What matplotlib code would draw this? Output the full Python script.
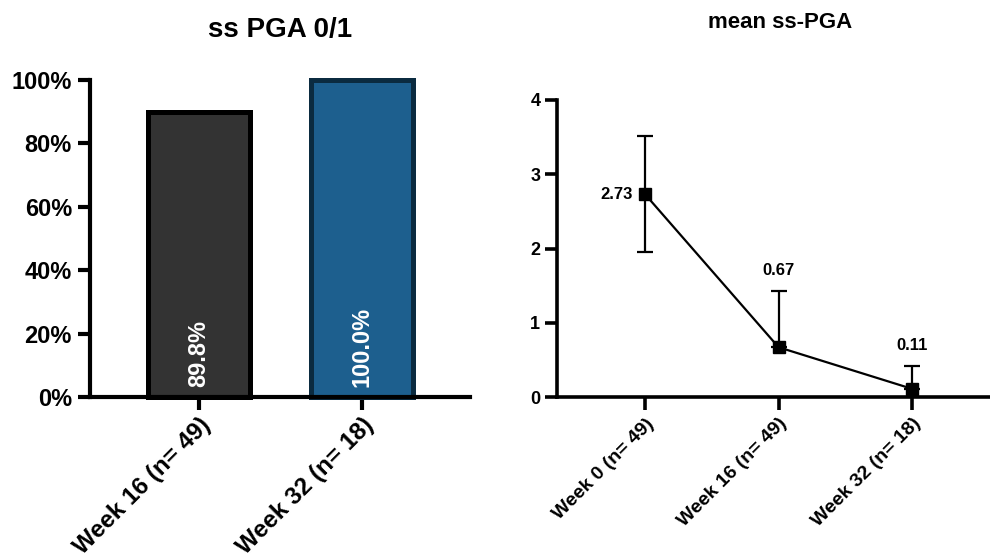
import matplotlib
matplotlib.use("Agg")
import matplotlib.pyplot as plt
from matplotlib.ticker import FuncFormatter

plt.rcParams['font.family'] = ['Liberation Sans', 'DejaVu Sans']

# ---- data ----
bar_categories = ["Week 16 (n= 49)", "Week 32 (n= 18)"]
bar_values = [0.898, 1.000]
bar_labels = ["89.8%", "100.0%"]
bar_colors = ["#333333", "#1D5F8E"]
bar_edges = ["#000000", "#0B2B40"]

line_categories = ["Week 0 (n= 49)", "Week 16 (n= 49)", "Week 32 (n= 18)"]
line_means = [2.73, 0.67, 0.11]
line_err_lower = [0.78, 0.0, 0.0]
line_err_upper = [0.78, 0.76, 0.31]
line_labels = ["2.73", "0.67", "0.11"]

fig = plt.figure(figsize=(9.9, 5.58), dpi=100)

# ---- left panel ----
ax1 = fig.add_axes([90/990, 1-397/558, 380/990, (397-80)/558])
xs = list(range(len(bar_categories)))
ax1.bar(xs, bar_values, width=0.63, color=bar_colors, edgecolor=bar_edges,
        linewidth=3.6, clip_on=False, zorder=2)
for x, lab in zip(xs, bar_labels):
    ax1.text(x, 0.03, lab, rotation=90, ha='center', va='bottom', color='white',
             fontsize=17, fontweight='bold')
ax1.set_xlim(-0.669, 1.663)
ax1.set_ylim(0, 1)
ax1.set_yticks([0, 0.2, 0.4, 0.6, 0.8, 1.0])
ax1.yaxis.set_major_formatter(FuncFormatter(lambda v, p: f"{v*100:.0f}%"))
ax1.set_xticks(xs)
ax1.set_xticklabels(bar_categories, rotation=45, ha='right', rotation_mode='anchor',
                    fontsize=17.5, fontweight='bold')
for lab in ax1.get_yticklabels():
    lab.set_fontweight('bold')
    lab.set_fontsize(17)
ax1.spines['top'].set_visible(False)
ax1.spines['right'].set_visible(False)
for s in ['left', 'bottom']:
    ax1.spines[s].set_linewidth(3)
ax1.tick_params(axis='both', length=9, width=3, direction='out')
ax1.tick_params(axis='x', pad=3)
ax1.tick_params(axis='y', pad=4)
fig.text(280/990, 1-30/558, "ss PGA 0/1", ha='center', va='center',
         fontsize=20, fontweight='bold')

# ---- right panel ----
ax2 = fig.add_axes([557/990, 1-397/558, 433/990, (397-100)/558])
xs2 = list(range(len(line_categories)))
ax2.errorbar(xs2, line_means, yerr=[line_err_lower, line_err_upper], color='black',
             marker='s', markersize=9, linewidth=1.6, elinewidth=1.6, capsize=5.5,
             capthick=1.6, clip_on=False, zorder=3)
ax2.annotate(line_labels[0], (xs2[0], line_means[0]), xytext=(-9, 0),
             textcoords='offset points', ha='right', va='center',
             fontsize=12, fontweight='bold')
for i in (1, 2):
    ax2.annotate(line_labels[i], (xs2[i], line_means[i] + line_err_upper[i]),
                 xytext=(0, 9), textcoords='offset points', ha='center',
                 va='bottom', fontsize=12, fontweight='bold')
ax2.set_xlim(-0.66, 2.584)
ax2.set_ylim(0, 4)
ax2.set_yticks([0, 1, 2, 3, 4])
ax2.set_xticks(xs2)
ax2.set_xticklabels(line_categories, rotation=45, ha='right', rotation_mode='anchor',
                    fontsize=14, fontweight='bold')
for lab in ax2.get_yticklabels():
    lab.set_fontweight('bold')
    lab.set_fontsize(13)
ax2.spines['top'].set_visible(False)
ax2.spines['right'].set_visible(False)
for s in ['left', 'bottom']:
    ax2.spines[s].set_linewidth(2.6)
ax2.tick_params(axis='both', length=9, width=2.6, direction='out')
ax2.tick_params(axis='x', pad=4)
ax2.tick_params(axis='y', pad=3)
fig.text(780/990, 1-22/558, "mean ss-PGA", ha='center', va='center',
         fontsize=16, fontweight='bold')

fig.savefig("out.png", dpi=100)
